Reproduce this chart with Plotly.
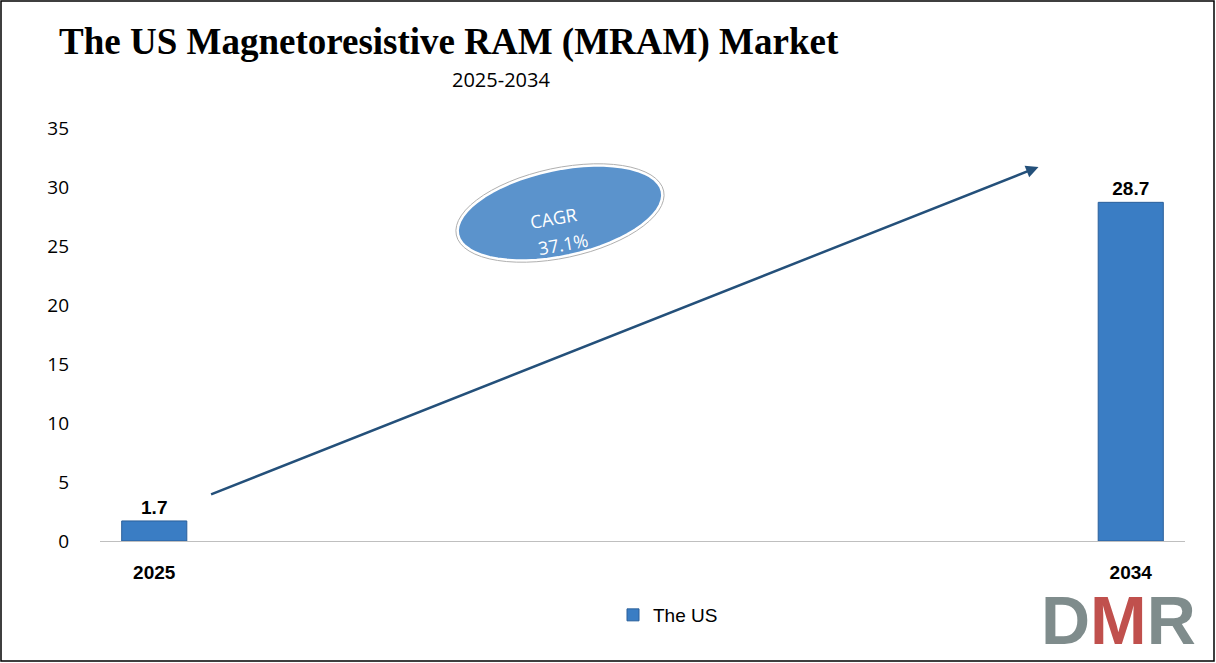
import math
import plotly.graph_objects as go

years = [2025, 2034]
values = [1.7, 28.7]
labels = ["<b>1.7</b>", "<b>28.7</b>"]

W, H = 1216, 663
L, R, T, B = 100, 31, 128, 122
pw, ph = W - L - R, H - T - B

def to_paper(px, py):
    return (px - L) / pw, (H - B - py) / ph

fig = go.Figure()
fig.add_trace(go.Bar(
    x=years, y=values, width=0.6, name="The US",
    marker=dict(color="#3a7dc4", line=dict(color="#2a5f9a", width=1)),
    text=labels, textposition="outside", cliponaxis=False,
    textfont=dict(family="Liberation Sans", size=19, color="black"),
))

# CAGR arrow
fig.add_annotation(x=2033.15, y=31.7, ax=2025.51, ay=3.9, xref="x", yref="y",
                   axref="x", ayref="y", showarrow=True, arrowhead=2, arrowsize=1,
                   arrowwidth=2.5, arrowcolor="#24507a", text="")

# rotated ellipse
cx, cy, rx, ry, ang = 560, 213, 106, 45, math.radians(-12)
pts = []
for i in range(61):
    t = 2 * math.pi * i / 60
    x = rx * math.cos(t)
    y = ry * math.sin(t)
    px = cx + x * math.cos(ang) - y * math.sin(ang)
    py = cy + x * math.sin(ang) + y * math.cos(ang)
    pts.append(to_paper(px, py))
path = "M " + " L ".join(f"{a:.4f},{b:.4f}" for a, b in pts) + " Z"
fig.add_shape(type="path", path=path, xref="paper", yref="paper",
              fillcolor="#5b93cc", line=dict(color="white", width=6), layer="below")
fig.add_shape(type="path", path=path, xref="paper", yref="paper",
              fillcolor="rgba(0,0,0,0)", line=dict(color="#b0b0b0", width=1), layer="below")
for txt, (px, py) in [("CAGR", (553, 200)), ("37.1%", (563, 226))]:
    ax_, ay_ = to_paper(px, py)
    fig.add_annotation(x=ax_, y=ay_, xref="paper", yref="paper", showarrow=False,
                       text=txt, textangle=-10,
                       font=dict(family="Open Sans", size=18, color="white"))

# titles
tx, ty = to_paper(57, 19)
fig.add_annotation(x=tx, y=ty, xref="paper", yref="paper", xanchor="left",
                   showarrow=False,
                   text="<b>The US Magnetoresistive RAM (MRAM) Market</b>",
                   font=dict(family="Liberation Serif", size=37, color="black"))
sx, sy = to_paper(450, 64)
fig.add_annotation(x=sx, y=sy, xref="paper", yref="paper",
                   showarrow=False, text="2025-2034",
                   font=dict(family="Open Sans", size=20, color="black"))

# logo
lx, ly = to_paper(1118, 660)
fig.add_annotation(x=lx, y=ly, xref="paper", yref="paper", showarrow=False,
                   xanchor="center", yanchor="bottom",
                   text="<b><span style='color:#7f8c8c'>D</span><span style='color:#c0504d'>M</span><span style='color:#7f8c8c'>R</span></b>",
                   font=dict(family="Liberation Sans", size=68))

# figure border
bx0, by0 = to_paper(1, H - 2)
bx1, by1 = to_paper(W - 2, 1)
fig.add_shape(type="rect", xref="paper", yref="paper", x0=bx0, x1=bx1, y0=by0, y1=by1,
              line=dict(color="black", width=1.5))

lgx, lgy = to_paper(668, 615)
fig.update_layout(
    width=W, height=H, margin=dict(l=L, r=R, t=T, b=B, autoexpand=False),
    paper_bgcolor="white", plot_bgcolor="white",
    showlegend=True,
    legend=dict(orientation="h", x=lgx, xanchor="center", y=lgy, yanchor="middle",
                font=dict(family="Liberation Sans", size=19, color="black")),
    xaxis=dict(range=[2024.5, 2034.5], tickvals=years, ticktext=["<b>2025</b>", "<b>2034</b>"],
               showline=True, linecolor="#bfbfbf", showgrid=False, ticks="",
               automargin=False, ticklabelstandoff=14,
               tickfont=dict(family="Liberation Sans", size=19, color="black")),
    yaxis=dict(range=[0, 35], dtick=5, showgrid=False, zeroline=False, automargin=False,
               tickfont=dict(family="Open Sans", size=19, color="black"), ticklabelstandoff=30),
)

fig.write_html("out.html", config={"displayModeBar": False},
               post_script="document.body.style.margin='0';")
